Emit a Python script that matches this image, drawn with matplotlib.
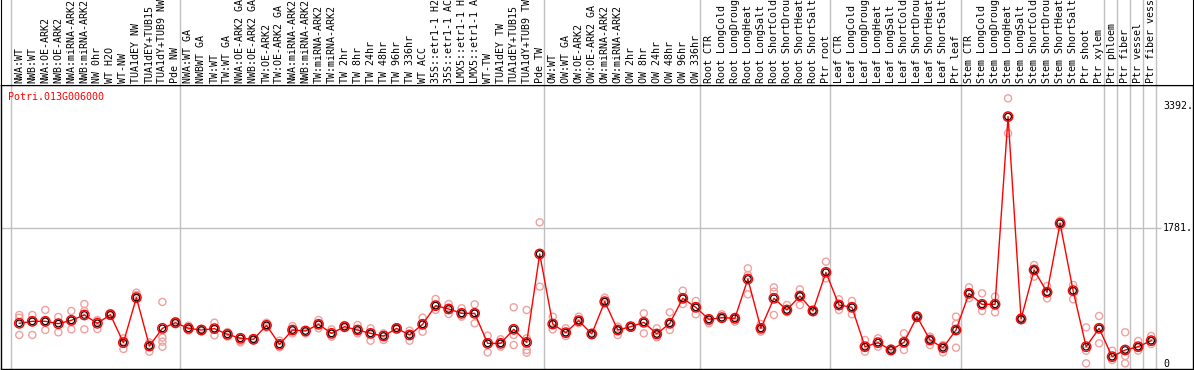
import numpy as np
import matplotlib
matplotlib.use("Agg")
import matplotlib.pyplot as plt
import matplotlib.transforms as mtransforms

# sample names (truncated to 14 chars like the original)
labels = [
    "NWA:WT", "NWB:WT", "NWA:OE-ARK2", "NWB:OE-ARK2", "NWA:miRNA-ARK2", "NWB:miRNA-ARK2",
    "NW 0hr", "WT H2O", "WT-NW", "TUA1dEY NW", "TUA1dEY+TUB15", "TUA1dY+TUB9 NW", "Pde NW",
    "NWA:WT GA", "NWBWT GA", "TW:WT", "TW:WT GA", "NWA:OE-ARK2 GA", "NWB:OE-ARK2 GA",
    "TW:OE-ARK2", "TW:OE-ARK2 GA", "NWA:miRNA-ARK2", "NWB:miRNA-ARK2", "TW:miRNA-ARK2",
    "TW:miRNA-ARK2", "TW 2hr", "TW 8hr", "TW 24hr", "TW 48hr", "TW 96hr", "TW 336hr",
    "WT ACC", "35S::etr1-1 H2", "35S::etr1-1 AC", "LMX5::etr1-1 H", "LMX5::etr1-1 A",
    "WT-TW", "TUA1dEY TW", "TUA1dEY+TUB15", "TUA1dY+TUB9 TW", "Pde TW",
    "OW:WT", "OW:WT GA", "OW:OE-ARK2", "OW:OE-ARK2 GA", "OW:miRNA-ARK2", "OW:miRNA-ARK2",
    "OW 2hr", "OW 8hr", "OW 24hr", "OW 48hr", "OW 96hr", "OW 336hr",
    "Root CTR", "Root LongCold", "Root LongDroug", "Root LongHeat", "Root LongSalt",
    "Root ShortCold", "Root ShortDrou", "Root ShortHeat", "Root ShortSalt", "Ptr root",
    "Leaf CTR", "Leaf LongCold", "Leaf LongDroug", "Leaf LongHeat", "Leaf LongSalt",
    "Leaf ShortCold", "Leaf ShortDrou", "Leaf ShortHeat", "Leaf ShortSalt", "Ptr leaf",
    "Stem CTR", "Stem LongCold", "Stem LongDroug", "Stem LongHeat", "Stem LongSalt",
    "Stem ShortCold", "Stem ShortDrou", "Stem ShortHeat", "Stem ShortSalt", "Ptr shoot",
    "Ptr xylem", "Ptr phloem", "Ptr fiber", "Ptr vessel", "Ptr fiber vess",
]

# mean expression per sample
means = [
    534, 560, 560, 529, 573, 643, 534, 647, 280, 871, 236, 468, 542,
    468, 446, 464, 389, 337, 324, 507, 258, 446, 433, 521, 402, 490, 446, 402,
    367, 468, 381, 521, 766, 722, 665, 665, 271, 271, 455, 284, 1444,
    525, 411, 569, 394, 818, 446, 490, 547, 394, 534, 862, 744,
    586, 608, 599, 1115, 468, 862, 709, 892, 696, 1203,
    774, 744, 227, 280, 184, 284, 621, 315, 214, 446,
    927, 783, 783, 3246, 591, 1234, 941, 1846, 962, 227, 468,
    96, 184, 227, 306,
]

# replicate values per sample
reps = [
    [643, 608, 381], [643, 560, 381], [709, 560, 446], [617, 540, 416],
    [696, 573, 455], [787, 696, 455], [577, 560, 459], [669, 647, 630],
    [337, 300, 197], [936, 906, 871], [284, 236, 162], [814, 346, 293, 227],
    [564, 542, 520],
    [503, 468, 440], [460, 446, 430], [542, 464, 376], [420, 389, 360],
    [337, 300, 284], [340, 324, 310], [542, 507, 480], [306, 258, 220],
    [499, 446, 402], [433, 420, 402], [577, 521, 468], [455, 402, 359],
    [512, 490, 470], [512, 446, 402], [468, 402, 306], [402, 367, 315],
    [480, 468, 455], [437, 381, 306], [608, 521, 424], [853, 766, 709],
    [787, 722, 656], [731, 665, 621], [783, 665, 534], [372, 271, 153],
    [324, 271, 227], [744, 381, 249], [709, 337, 184, 149], [1859, 1444, 1015],
    [621, 525, 455], [468, 411, 367], [621, 569, 534], [410, 394, 380],
    [871, 818, 790], [490, 446, 381], [500, 490, 480], [665, 547, 402],
    [468, 394, 350], [678, 534, 446], [962, 862, 787], [827, 744, 652],
    [586, 560, 534], [652, 608, 590], [620, 599, 556], [1255, 1168, 914],
    [525, 468, 424], [1006, 949, 643], [774, 709, 680], [980, 892, 774],
    [710, 696, 680], [1343, 1203, 1124],
    [849, 774, 709], [827, 744, 652], [315, 227, 162], [337, 280, 227],
    [206, 184, 170], [402, 284, 184], [640, 621, 600], [359, 315, 249],
    [249, 214, 153], [621, 525, 214],
    [1006, 927, 862], [927, 783, 696], [884, 783, 678], [3486, 3246, 3027],
    [612, 591, 575], [1299, 1234, 1146], [1024, 941, 862], [1881, 1846, 1802],
    [1037, 962, 849], [481, 175, 9], [630, 468, 271],
    [175, 96, 52], [416, 105, 9], [302, 227, 175], [367, 306, 262],
]

# last sample index of each group (vertical separators)
group_ends = [-1, 12, 40, 52, 62, 72, 83, 84, 85, 86, 87]
title = "Potri.013G006000"
ytick_vals = [0, 1781, 3392]
ytick_text = ["0", "1781.", "3392."]

W, H = 1194, 370
fig = plt.figure(figsize=(W / 100, H / 100), dpi=100)
mono = "DejaVu Sans Mono"
fs = 7.2

def xd(px):
    # pixel column -> data x
    return (px - 19.3) / 13.01

xlim = (xd(1), xd(1193))

ax = fig.add_axes([1 / W, (H - 369) / H, 1192 / W, 284 / H])
ax.set_xlim(*xlim)
ax.set_ylim(-65.6, 3661)
ax.set_xticks([])
ax.set_yticks([])
for s in ax.spines.values():
    s.set_color("black")
    s.set_linewidth(1)

head = fig.add_axes([1 / W, (H - 85) / H, 1192 / W, 85 / H])
head.set_xlim(*xlim)
head.set_ylim(0, 1)
head.set_xticks([])
head.set_yticks([])
head.spines["top"].set_visible(False)

gray = "#c0c0c0"
for g in group_ends:
    ax.axvline(g + 0.35, color=gray, lw=1, zorder=0)
    head.axvline(g + 0.35, color=gray, lw=1, zorder=0)

ax.hlines(1781, xlim[0], xd(1161), color=gray, lw=1, zorder=0)

x = np.arange(len(means))
for i, r in enumerate(reps):
    ax.scatter([i] * len(r), r, s=26, facecolors="none", edgecolors="#f0a0a0",
               linewidths=1, zorder=2)
ax.plot(x, means, color="red", lw=1, zorder=3)
ax.scatter(x, means, s=46, facecolors="none", edgecolors="red", linewidths=1.0, zorder=4)
ax.scatter(x, means, s=22, facecolors="none", edgecolors="black", linewidths=0.8, zorder=5)

trans = mtransforms.blended_transform_factory(head.transData, head.transAxes)
for i, lab in enumerate(labels):
    head.text(i, 2 / 85, lab, rotation=90, ha="center", va="bottom",
              family=mono, fontsize=fs, transform=trans, clip_on=False)

for v, t in zip(ytick_vals, ytick_text):
    ax.text(xd(1163), v, t, ha="left", va="center", family=mono, fontsize=fs)

fig.text(8 / W, 1 - 97 / H, title, color="red", ha="left", va="center",
         family=mono, fontsize=fs)

fig.savefig("out.png", dpi=100)
